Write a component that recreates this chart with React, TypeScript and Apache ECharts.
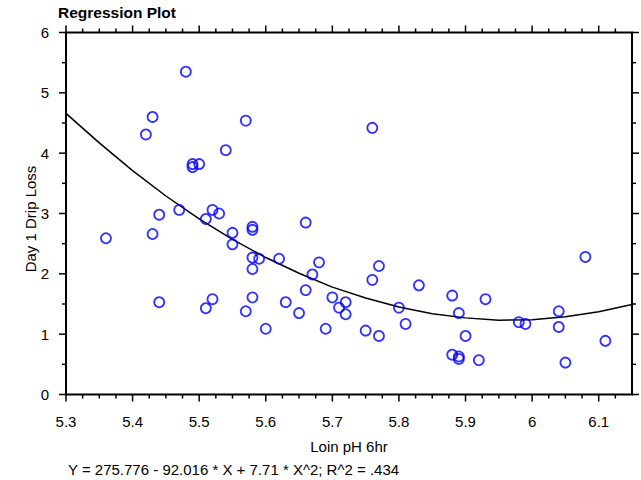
import React, { useEffect, useRef } from "react";
import * as echarts from "echarts";

const pointX = [
  5.48, 5.43, 5.42, 5.57, 5.54, 5.49, 5.50, 5.49, 5.76, 5.36,
  5.43, 5.44, 5.47, 5.52, 5.53, 5.51, 5.55, 5.55, 5.58, 5.58,
  5.66, 5.58, 5.59, 5.58, 5.62, 5.68, 5.67, 5.66, 5.44, 5.52,
  5.51, 5.58, 5.57, 5.60, 5.63, 5.65, 5.70, 5.71, 5.72, 5.72,
  5.69, 5.76, 5.77, 5.75, 5.77, 5.80, 5.81, 5.83, 5.88, 5.89,
  5.93, 5.90, 5.88, 5.89, 5.89, 5.92, 5.98, 5.99, 6.04, 6.04,
  6.05, 6.08, 6.11,
];
const pointY = [
  5.35, 4.60, 4.31, 4.54, 4.05, 3.82, 3.82, 3.77, 4.42, 2.59,
  2.66, 2.98, 3.06, 3.06, 3.00, 2.91, 2.68, 2.49, 2.78, 2.73,
  2.85, 2.27, 2.25, 2.08, 2.25, 2.19, 1.99, 1.73, 1.53, 1.58,
  1.43, 1.61, 1.38, 1.09, 1.53, 1.35, 1.61, 1.44, 1.53, 1.33,
  1.09, 1.90, 2.13, 1.06, 0.97, 1.44, 1.17, 1.81, 1.64, 1.35,
  1.58, 0.97, 0.66, 0.63, 0.59, 0.57, 1.20, 1.17, 1.38, 1.12,
  0.53, 2.28, 0.89,
];

const curveX = [
  5.30, 5.35, 5.40, 5.45, 5.50, 5.55, 5.60, 5.65, 5.70,
  5.75, 5.80, 5.85, 5.90, 5.95, 6.00, 6.05, 6.10, 6.15,
];
const curveY = [
  4.66, 4.17, 3.71, 3.29, 2.91, 2.57, 2.27, 2.01, 1.78,
  1.60, 1.45, 1.34, 1.27, 1.23, 1.24, 1.29, 1.37, 1.49,
];

const xTickLabels = ["5.3", "5.4", "5.5", "5.6", "5.7", "5.8", "5.9", "6", "6.1"];
const yTickLabels = ["0", "1", "2", "3", "4", "5", "6"];

const titleText = "Regression Plot";
const xName = "Loin pH 6hr";
const yName = "Day 1 Drip Loss";
const equation = "Y = 275.776 - 92.016 * X + 7.71 * X^2; R^2 = .434";

const FONT = "'Liberation Sans', Arial, sans-serif";

const X_MIN = 5.3, X_MAX = 6.15, Y_MIN = 0, Y_MAX = 6;
const X_MINOR_STEP = 0.025, X_MINOR_COUNT = 33;
const Y_MINOR_STEP = 0.5, Y_MINOR_COUNT = 12;
const MAJOR_LEN = 7, MINOR_LEN = 4;

export default function App() {
  const ref = useRef<HTMLDivElement>(null);

  useEffect(() => {
    document.body.style.margin = "0";
    if (!ref.current) return;
    const chart = echarts.init(ref.current, null, { renderer: "svg" });

    // tick positions: [value, length]
    const xTicks: number[][] = [];
    for (let k = 0; k <= X_MINOR_COUNT; k++) {
      xTicks.push([+(X_MIN + k * X_MINOR_STEP).toFixed(4), k % 4 === 0 ? MAJOR_LEN : MINOR_LEN]);
    }
    const yTicks: number[][] = [];
    for (let k = 0; k <= Y_MINOR_COUNT; k++) {
      yTicks.push([+(Y_MIN + k * Y_MINOR_STEP).toFixed(4), k % 2 === 0 ? MAJOR_LEN : MINOR_LEN]);
    }
    const tickStroke = { stroke: "#000", lineWidth: 1.5 };

    chart.setOption({
      animation: false,
      grid: {
        left: 66, right: 9, top: 32.5, bottom: 85.5, containLabel: false,
        show: true, borderColor: "#000", borderWidth: 2, backgroundColor: "rgba(0,0,0,0)",
      },
      xAxis: {
        type: "value",
        min: X_MIN,
        max: X_MAX,
        interval: 0.1,
        splitLine: { show: false },
        axisLine: { show: false },
        axisTick: { show: false },
        axisLabel: {
          color: "#000",
          fontFamily: FONT,
          fontSize: 15,
          margin: 19,
          showMaxLabel: false,
          formatter: (v: number) => {
            const idx = Math.round((v - X_MIN) / 0.1);
            return Math.abs(v - (X_MIN + idx * 0.1)) < 1e-6 && idx < xTickLabels.length ? xTickLabels[idx] : "";
          },
        },
      },
      yAxis: {
        type: "value",
        min: Y_MIN,
        max: Y_MAX,
        interval: 1,
        splitLine: { show: false },
        axisLine: { show: false },
        axisTick: { show: false },
        axisLabel: {
          color: "#000",
          fontFamily: FONT,
          fontSize: 15,
          margin: 17,
          formatter: (v: number) => {
            const idx = Math.round(v);
            return Math.abs(v - idx) < 1e-6 ? yTickLabels[idx] : "";
          },
        },
      },
      series: [
        {
          type: "line",
          data: curveX.map((x, i) => [x, curveY[i]]),
          showSymbol: false,
          symbol: "none",
          lineStyle: { color: "#000", width: 1.5 },
          z: 2,
        },
        {
          type: "scatter",
          data: pointX.map((x, i) => [x, pointY[i]]),
          symbol: "circle",
          symbolSize: 10,
          itemStyle: { color: "rgba(0,0,0,0)", borderColor: "#0000ff", borderWidth: 1.8 },
          z: 3,
        },
        {
          type: "custom",
          silent: true,
          clip: false,
          z: 5,
          data: xTicks,
          renderItem: (params: any, api: any) => {
            const v = api.value(0);
            const len = api.value(1);
            const cs = params.coordSys;
            const px = api.coord([v, Y_MIN])[0];
            const top = cs.y;
            const bottom = cs.y + cs.height;
            return {
              type: "group",
              children: [
                { type: "line", shape: { x1: px, y1: bottom, x2: px, y2: bottom + len }, style: tickStroke },
                { type: "line", shape: { x1: px, y1: top, x2: px, y2: top - len }, style: tickStroke },
              ],
            };
          },
        },
        {
          type: "custom",
          silent: true,
          clip: false,
          z: 5,
          data: yTicks,
          renderItem: (params: any, api: any) => {
            const v = api.value(0);
            const len = api.value(1);
            const cs = params.coordSys;
            const py = api.coord([X_MIN, v])[1];
            const left = cs.x;
            const right = cs.x + cs.width;
            return {
              type: "group",
              children: [
                { type: "line", shape: { x1: left, y1: py, x2: left - len, y2: py }, style: tickStroke },
                { type: "line", shape: { x1: right, y1: py, x2: right + len, y2: py }, style: tickStroke },
              ],
            };
          },
        },
      ],
      graphic: [
        {
          type: "text",
          x: 58,
          y: 12,
          style: { text: titleText, fontFamily: FONT, fontSize: 15.5, fontWeight: "bold", fill: "#000", align: "left", verticalAlign: "middle" },
        },
        {
          type: "text",
          x: 349,
          y: 446,
          style: { text: xName, fontFamily: FONT, fontSize: 15, fill: "#000", align: "center", verticalAlign: "middle" },
        },
        {
          type: "text",
          x: 30,
          y: 219,
          rotation: Math.PI / 2,
          style: { text: yName, fontFamily: FONT, fontSize: 15, fill: "#000", align: "center", verticalAlign: "middle" },
        },
        {
          type: "text",
          x: 68,
          y: 469,
          style: { text: equation, fontFamily: FONT, fontSize: 15, fill: "#000", align: "left", verticalAlign: "middle" },
        },
      ],
    });

    return () => chart.dispose();
  }, []);

  return <div ref={ref} style={{ width: 641, height: 480 }} />;
}
